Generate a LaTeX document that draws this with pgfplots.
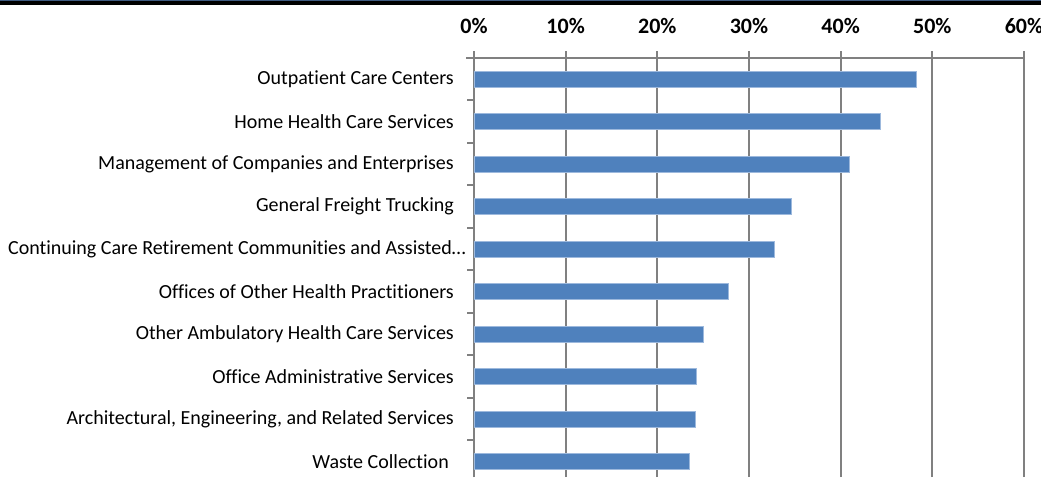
\documentclass[border=0pt]{standalone}
\usepackage{fontspec}
\setmainfont{Carlito}[RawFeature={-liga;-clig;-dlig}]
\usepackage{pgfplots}
\pgfplotsset{compat=1.18}
\definecolor{barblue}{HTML}{4F81BD}
\definecolor{baredge}{HTML}{9DB9DD}
\definecolor{gridgray}{HTML}{808080}
\definecolor{topline}{HTML}{3E5A80}
\begin{document}
\begin{tikzpicture}
\begin{axis}[
  name=ax,
  scale only axis,
  width=550bp, height=419bp,
  xmin=0, xmax=60, ymin=-0.36, ymax=9.5,
  axis x line*=top, axis y line*=left,
  axis line style={gridgray, line width=2bp, -},
  xtick={0,10,...,60},
  xticklabels={0\%,10\%,20\%,30\%,40\%,50\%,60\%},
  xticklabel style={font=\fontsize{22bp}{26bp}\selectfont\bfseries, inner sep=0pt, anchor=base, yshift=17.5bp},
  xmajorgrids, major grid style={gridgray, line width=2bp},
  ytick={0,1,2,3,4,5,6,7,8,9},
  yticklabels={Waste Collection\hspace*{5bp},
    {Architectural, Engineering, and Related Services},
    Office Administrative Services,
    Other Ambulatory Health Care Services,
    Offices of Other Health Practitioners,
    {Continuing Care Retirement Communities and Assisted…\hspace*{-12bp}},
    General Freight Trucking,
    Management of Companies and Enterprises,
    Home Health Care Services,
    Outpatient Care Centers},
  minor ytick={-0.5,0.5,1.5,2.5,3.5,4.5,5.5,6.5,7.5,8.5,9.5},
  yticklabel style={font=\fontsize{20bp}{24bp}\selectfont, inner sep=0pt, xshift=-13.5bp},
  major tick length=6.5bp,
  minor tick length=6.5bp,
  tick align=outside,
  tick style={gridgray, line width=2bp},
  major y tick style={draw=none},
  minor tick style={gridgray, line width=2bp},
  clip=false,
]
\addplot[xbar, bar width=16bp, fill=barblue, draw=baredge, line width=0.8bp]
  coordinates {(23.5,0) (24.2,1) (24.3,2) (25.0,3) (27.7,4) (32.8,5) (34.6,6) (40.9,7) (44.3,8) (48.3,9)};
\end{axis}
\draw[gridgray, line width=2bp] ([xshift=-8bp]ax.north west) -- (ax.north east);
\pgfresetboundingbox
\path ([xshift=-474bp]ax.south west) rectangle ([xshift=17bp,yshift=58bp]ax.north east);
\fill[black] ([xshift=-474bp,yshift=52.5bp]ax.north west) rectangle ([xshift=17bp,yshift=58bp]ax.north east);
\fill[topline] ([xshift=-474bp,yshift=56.5bp]ax.north west) rectangle ([xshift=17bp,yshift=58bp]ax.north east);
\end{tikzpicture}
\end{document}
